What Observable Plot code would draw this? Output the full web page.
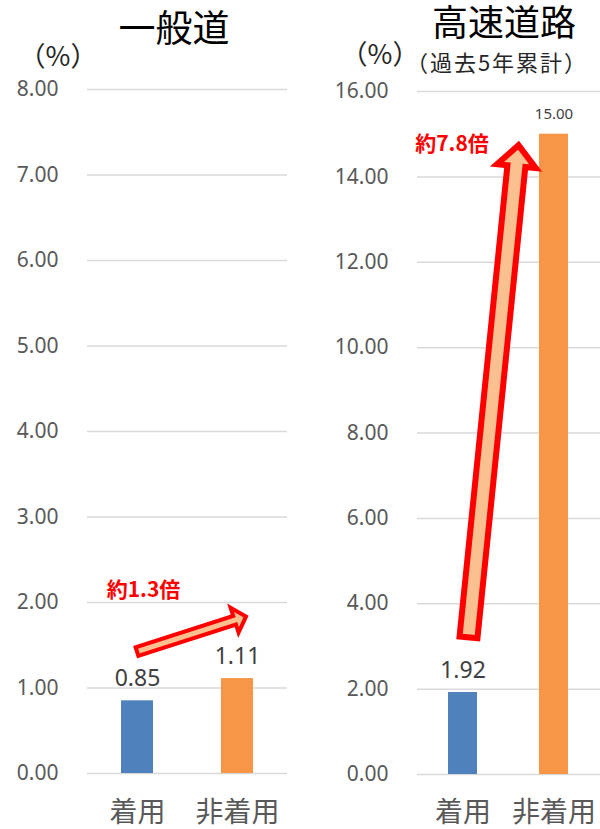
<!DOCTYPE html>
<html lang="ja">
<head>
<meta charset="utf-8">
<script src="https://cdn.jsdelivr.net/npm/d3@7"></script>
<script src="https://cdn.jsdelivr.net/npm/@observablehq/plot@0.6"></script>
<style>
  html, body { margin: 0; padding: 0; background: #fff; overflow: hidden; }
  #wrap { position: relative; width: 600px; height: 829px; overflow: hidden;
          font-family: "Noto Sans CJK JP", "Noto Sans", sans-serif; }
  #wrap svg { position: absolute; top: 0; }
  .lbl { position: absolute; line-height: 1; white-space: nowrap;
         transform: translate(-50%, -50%); color: #000; }
  .tight { font-feature-settings: "halt"; }
</style>
</head>
<body>
<div id="wrap">
  <div class="lbl" style="left:174px; top:26px; font-size:37px;">一般道</div>
  <div class="lbl" style="left:504px; top:20px; font-size:36px;">高速道路</div>
  <div class="lbl tight" style="left:58px; top:54px; font-size:27px; color:#262626;">（%）</div>
  <div class="lbl tight" style="left:380px; top:52px; font-size:27px; color:#262626;">（%）</div>
  <div class="lbl tight" style="left:497px; top:61px; font-size:22px; letter-spacing:2px; color:#262626;">（過去5年累計）</div>
</div>
<script>
// Seat-belt use vs. fatality rate, ordinary roads and expressways (%)
const categories = ["着用", "非着用"];
const generalRoad = [0.85, 1.11];
const expressway = [1.92, 15.00];
const generalTicks = [0, 1, 2, 3, 4, 5, 6, 7, 8];
const expresswayTicks = [0, 2, 4, 6, 8, 10, 12, 14, 16];
const ratioLabels = ["約1.3倍", "約7.8倍"];
const barColors = ["#4f81bd", "#f79646"];

const numFont = '"Noto Sans", "Noto Sans CJK JP", sans-serif';
const cjkFont = '"Noto Sans CJK JP", "Noto Sans", sans-serif';

// Draws a block arrow (outlined shaft + triangular head) between two data points
function blockArrow(svg, plot, from, to, o) {
  const sx = plot.scale("x"), sy = plot.scale("y");
  const px = (c, dx) => sx.apply(c) + sx.bandwidth / 2 + dx;
  const x0 = px(from.x, o.fromDx || 0), y0 = sy.apply(from.y);
  const x1 = px(to.x, o.toDx || 0), y1 = sy.apply(to.y);
  const len = Math.hypot(x1 - x0, y1 - y0);
  const ux = (x1 - x0) / len, uy = (y1 - y0) / len;
  const nx = -uy, ny = ux;
  const bx = x1 - ux * o.headLength, by = y1 - uy * o.headLength;
  const pts = [
    [x0 + nx * o.shaft, y0 + ny * o.shaft],
    [bx + nx * o.shaft, by + ny * o.shaft],
    [bx + nx * o.head, by + ny * o.head],
    [x1, y1],
    [bx - nx * o.head, by - ny * o.head],
    [bx - nx * o.shaft, by - ny * o.shaft],
    [x0 - nx * o.shaft, y0 - ny * o.shaft]
  ];
  d3.select(svg).append("path")
    .attr("d", "M" + pts.map(p => p.join(",")).join("L") + "Z")
    .attr("fill", "#fac090")
    .attr("stroke", "#ff0000")
    .attr("stroke-width", o.strokeWidth)
    .attr("stroke-linejoin", "miter")
    .attr("stroke-miterlimit", 10);
}

function panel(values, ticks, opts) {
  const rows = categories.map((c, i) => ({category: c, value: values[i]}));
  return Plot.plot({
    width: opts.width,
    height: 829,
    marginLeft: opts.marginLeft,
    marginRight: opts.marginRight,
    marginTop: opts.marginTop,
    marginBottom: opts.marginBottom,
    style: {fontFamily: numFont, background: "transparent", overflow: "visible"},
    x: {domain: categories, paddingInner: 0.68, paddingOuter: 0.34, label: null},
    y: {domain: [0, ticks[ticks.length - 1]], label: null},
    color: {domain: categories, range: barColors},
    marks: [
      Plot.gridY(ticks, {stroke: "#d9d9d9", strokeOpacity: 1, strokeWidth: 1.5}),
      Plot.axisY(ticks, {
        tickSize: 0, tickPadding: 29, tickFormat: d => d.toFixed(2),
        fontSize: 21, fill: "#595959", label: null
      }),
      Plot.axisX({
        tickSize: 0, tickPadding: opts.catPadding, fontSize: 28, fill: "#595959",
        fontFamily: cjkFont, label: null
      }),
      Plot.barY(rows, {x: "category", y: "value", fill: "category"}),
      Plot.text(rows, {
        x: "category", y: "value", text: d => d.value.toFixed(2),
        lineAnchor: "bottom", dy: -15, fill: "#404040",
        fontSize: (d, i) => opts.valueSizes[i]
      }),
      Plot.text([opts.ratio], {
        x: () => categories[0], y: () => opts.ratioY, text: d => d,
        dx: opts.ratioDx, fill: "#ff0000", fontWeight: "bold",
        fontSize: 21, fontFamily: cjkFont
      })
    ]
  });
}

const wrap = document.getElementById("wrap");

const left = panel(generalRoad, generalTicks, {
  width: 300, marginLeft: 87, marginRight: 13, marginTop: 89, marginBottom: 56,
  catPadding: 29, valueSizes: [23, 23], ratio: ratioLabels[0], ratioY: 2.14, ratioDx: 6
});
left.style.left = "0px";
wrap.appendChild(left);
blockArrow(left, left, {x: categories[0], y: 1.42}, {x: categories[1], y: 1.83},
  {fromDx: 0, toDx: 9, shaft: 4.5, head: 13, headLength: 12, strokeWidth: 4});

const right = panel(expressway, expresswayTicks, {
  width: 304, marginLeft: 121, marginRight: 0, marginTop: 91, marginBottom: 55,
  catPadding: 28, valueSizes: [23, 15], ratio: ratioLabels[1], ratioY: 14.77, ratioDx: -11
});
right.style.left = "296px";
wrap.appendChild(right);
blockArrow(right, right, {x: categories[0], y: 3.2}, {x: categories[0], y: 14.73},
  {fromDx: 6, toDx: 56, shaft: 9, head: 19.5, headLength: 21, strokeWidth: 6});
</script>
</body>
</html>
